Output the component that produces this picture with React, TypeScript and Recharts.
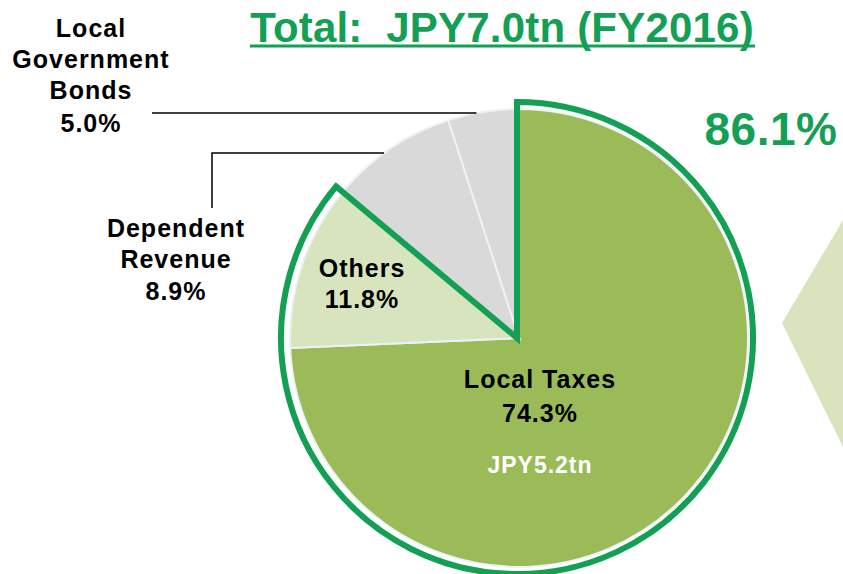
import React from "react";
import { PieChart, Pie, Cell } from "recharts";

// FY2016 local revenue breakdown (share of JPY7.0tn)
const categories = ["Local Taxes", "Others", "Dependent Revenue", "Local Government Bonds"];
const shares = [74.3, 11.8, 8.9, 5.0];
const amounts = ["JPY5.2tn", "", "", ""];
const sliceColors = ["#9bbb59", "#d7e4bd", "#d9d9d9", "#d9d9d9"];

// own-source share highlighted with the green outline
const highlightShare = 86.1;
const highlightData = [
  { name: "own", value: highlightShare },
  { name: "rest", value: +(100 - highlightShare).toFixed(1) },
];

const titleText = "Total:\u00a0 JPY7.0tn (FY2016)";

const pieData = categories.map((name, i) => ({ name, value: shares[i], amount: amounts[i] }));

const GREEN = "#13a055";
const FONT = "'Liberation Sans', Arial, sans-serif";

const textProps = {
  fontFamily: FONT,
  fontWeight: 700,
  fontSize: 25,
  letterSpacing: 1,
  fill: "#000",
  textAnchor: "middle" as const,
};

function renderLabel(props: any) {
  const { cx, cy, outerRadius, index, name, value, payload } = props;
  const pct = `${Number(value).toFixed(1)}%`;
  // point on the pie rim at a given height, on the left side
  const rimX = (y: number) => cx - Math.sqrt(Math.max(outerRadius * outerRadius - (y - cy) * (y - cy), 0));

  if (index === 0) {
    return (
      <g key="lbl-0">
        <text {...textProps} x={cx + 21} y={cy + 50}>{name}</text>
        <text {...textProps} x={cx + 21} y={cy + 84}>{pct}</text>
        <text {...textProps} fill="#fff" fontSize={23} x={cx + 21} y={cy + 135}>{payload.amount}</text>
      </g>
    );
  }
  if (index === 1) {
    return (
      <g key="lbl-1">
        <text {...textProps} x={cx - 157} y={cy - 61}>{name}</text>
        <text {...textProps} x={cx - 157} y={cy - 30}>{pct}</text>
      </g>
    );
  }
  if (index === 2) {
    const lineY = cy - 185;
    return (
      <g key="lbl-2">
        <polyline
          points={`${cx - 307},${cy - 130} ${cx - 307},${lineY} ${rimX(lineY)},${lineY}`}
          fill="none"
          stroke="#000"
          strokeWidth={1.5}
        />
        <text {...textProps} x={cx - 343} y={cy - 101}>Dependent</text>
        <text {...textProps} x={cx - 343} y={cy - 70}>Revenue</text>
        <text {...textProps} x={cx - 343} y={cy - 38}>{pct}</text>
      </g>
    );
  }
  const lineY = cy - 225;
  return (
    <g key="lbl-3">
      <line x1={cx - 367} y1={lineY} x2={rimX(lineY)} y2={lineY} stroke="#000" strokeWidth={1.5} />
      <text {...textProps} x={cx - 428} y={cy - 301}>Local</text>
      <text {...textProps} x={cx - 428} y={cy - 270}>Government</text>
      <text {...textProps} x={cx - 428} y={cy - 239}>Bonds</text>
      <text {...textProps} x={cx - 428} y={cy - 206}>{pct}</text>
    </g>
  );
}

export default function App() {
  return (
    <div style={{ position: "absolute", left: 0, top: 0, width: 843, height: 574, background: "#fff", overflow: "hidden" }}>
      <svg width={843} height={574} style={{ position: "absolute", left: 0, top: 0 }}>
        <polygon points="782,323 843,220 843,447" fill="#d9e4be" />
        <text x={502} y={42} textAnchor="middle" fontFamily={FONT} fontWeight={700} fontSize={42} letterSpacing={0.2} fill={GREEN}>
          {titleText}
        </text>
        <line x1={250} y1={46} x2={755} y2={46} stroke={GREEN} strokeWidth={3} />
        <text x={771} y={145} textAnchor="middle" fontFamily={FONT} fontWeight={700} fontSize={46} letterSpacing={0.5} fill={GREEN}>
          {`${highlightShare}%`}
        </text>
      </svg>
      <div style={{ position: "absolute", left: 0, top: 0 }}>
        <PieChart width={843} height={574} margin={{ top: 0, right: 0, bottom: 0, left: 0 }}>
          <Pie
            data={pieData}
            dataKey="value"
            nameKey="name"
            cx={519}
            cy={338}
            outerRadius={229}
            startAngle={90}
            endAngle={-270}
            stroke="#edf2f7"
            strokeWidth={2}
            label={renderLabel}
            labelLine={false}
            isAnimationActive={false}
          >
            {pieData.map((d, i) => (
              <Cell key={d.name} fill={sliceColors[i]} />
            ))}
          </Pie>
          <Pie
            data={highlightData}
            dataKey="value"
            cx={517}
            cy={338}
            outerRadius={236}
            startAngle={90}
            endAngle={-270}
            isAnimationActive={false}
          >
            {highlightData.map((d, i) => (
              <Cell
                key={d.name}
                fill="none"
                stroke={i === 0 ? GREEN : "none"}
                strokeWidth={6}
                strokeLinejoin="miter"
              />
            ))}
          </Pie>
        </PieChart>
      </div>
    </div>
  );
}
